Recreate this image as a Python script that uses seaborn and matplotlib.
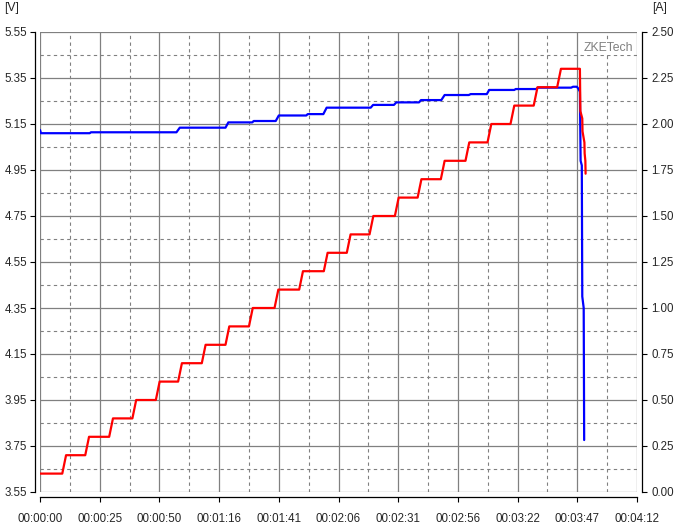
import matplotlib
matplotlib.use("Agg")
import matplotlib.pyplot as plt
import numpy as np
import pandas as pd
import seaborn as sns

# Voltage trace (seconds, volts), corner points
volt_t = [0.0, 0.4, 21.0, 21.5, 57.6, 59.0, 78.3, 79.5, 89.6, 90.2, 99.5, 100.8,
          112.4, 113.0, 119.6, 121.0, 139.6, 140.6, 149.4, 150.4, 160.0, 160.8,
          169.4, 170.8, 181.0, 181.8, 188.6, 189.6, 200.2, 200.8, 209.4, 210.2,
          224.2, 225.0, 226.6, 227.3, 227.9, 228.2, 228.7, 228.9, 229.5, 229.7]
volt_v = [5.124, 5.110, 5.110, 5.114, 5.114, 5.134, 5.134, 5.157, 5.157, 5.163,
          5.163, 5.187, 5.187, 5.193, 5.193, 5.221, 5.221, 5.233, 5.233, 5.244,
          5.244, 5.254, 5.254, 5.276, 5.276, 5.280, 5.280, 5.298, 5.298, 5.302,
          5.302, 5.308, 5.308, 5.312, 5.312, 5.303, 5.290, 4.990, 4.970, 4.400,
          4.350, 3.776]

# Current steps (A) and the times they step up
step_levels = [0.1, 0.2, 0.3, 0.4, 0.5, 0.6, 0.7, 0.8, 0.9, 1.0, 1.1, 1.2,
               1.3, 1.4, 1.5, 1.6, 1.7, 1.8, 1.9, 2.0, 2.1, 2.2, 2.3]
step_times = [10.2, 19.9, 30.0, 39.8, 49.7, 59.1, 69.1, 79.1, 89.0, 99.8, 110.2,
              120.6, 130.3, 139.9, 150.6, 160.2, 170.0, 180.4, 189.7, 199.4,
              209.2, 219.1]
# current collapse at the end of the test
drop_t = [227.9, 228.1, 228.9, 229.0, 229.8, 229.9, 230.2, 230.3]
drop_a = [2.30, 2.07, 2.03, 1.96, 1.90, 1.84, 1.80, 1.73]

x_ticks = [0, 25.2, 50.4, 75.6, 100.8, 126.0, 151.2, 176.4, 201.6, 226.8, 252.0]
x_labels = ["00:00:00", "00:00:25", "00:00:50", "00:01:16", "00:01:41", "00:02:06",
            "00:02:31", "00:02:56", "00:03:22", "00:03:47", "00:04:12"]
v_ticks = [3.55, 3.75, 3.95, 4.15, 4.35, 4.55, 4.75, 4.95, 5.15, 5.35, 5.55]
a_ticks = [0.0, 0.25, 0.5, 0.75, 1.0, 1.25, 1.5, 1.75, 2.0, 2.25, 2.5]

# build the current path: short ramp at each step
cur_t = [0.0]
cur_a = [step_levels[0]]
for i, t in enumerate(step_times):
    cur_t += [t - 0.8, t + 0.8]
    cur_a += [step_levels[i], step_levels[i + 1]]
cur_t += drop_t
cur_a += drop_a

volt_df = pd.DataFrame({"t": volt_t, "V": volt_v})
cur_df = pd.DataFrame({"t": cur_t, "A": cur_a})

sns.set_style("white")
plt.rcParams["font.family"] = ["Liberation Sans", "DejaVu Sans"]
plt.rcParams["font.size"] = 8.3

W, H = 677, 525
fig = plt.figure(figsize=(W / 100, H / 100), dpi=100)
ax = fig.add_axes([40 / W, 33 / H, 597 / W, 460 / H])
ax2 = ax.twinx()

sns.lineplot(data=volt_df, x="t", y="V", ax=ax, color="#0000ff", lw=1.6,
             estimator=None, sort=False)
sns.lineplot(data=cur_df, x="t", y="A", ax=ax2, color="#ff0000", lw=1.6,
             estimator=None, sort=False)

ax.set_xlim(0, 252)
ax.set_ylim(3.55, 5.55)
ax2.set_ylim(0, 2.5)

ax.set_xticks(x_ticks)
ax.set_xticklabels(x_labels)
ax.set_xticks([12.6 + 25.2 * i for i in range(10)], minor=True)
ax.set_yticks(v_ticks)
ax.set_yticklabels([f"{v:.2f}" for v in v_ticks], fontsize=8.8)
ax.set_yticks([3.65 + 0.2 * i for i in range(10)], minor=True)
ax2.set_yticks(a_ticks)
ax2.set_yticklabels([f"{a:.2f}" for a in a_ticks], fontsize=8.8)

ax.grid(which="major", color="#808080", lw=0.9, ls="-")
ax.grid(which="minor", color="#808080", lw=0.8, ls=(0, (3, 3)))
ax.set_axisbelow(True)

for a in (ax, ax2):
    a.set_xlabel("")
    a.set_ylabel("")
    for s in a.spines.values():
        s.set_visible(False)

ax.spines["left"].set_visible(True)
ax.spines["left"].set_position(("outward", 3.6))
ax.spines["bottom"].set_visible(True)
ax.spines["bottom"].set_position(("outward", 3.6))
ax2.spines["right"].set_visible(True)
ax2.spines["right"].set_position(("outward", 3.6))
for s in (ax.spines["left"], ax.spines["bottom"], ax2.spines["right"]):
    s.set_color("black")
    s.set_linewidth(0.9)

ax.tick_params(which="major", axis="y", length=3.6, width=0.8, color="black",
               left=True, pad=2)
ax.tick_params(which="major", axis="x", length=3.6, width=0.8, color="black",
               bottom=True, pad=8)
ax.tick_params(which="minor", length=0)
ax2.tick_params(axis="y", length=3.6, width=0.8, color="black", right=True, pad=3)

fig.text(12 / W, 1 - 8 / H, "[V]", ha="center", va="center", fontsize=8.8)
fig.text(660 / W, 1 - 8 / H, "[A]", ha="center", va="center", fontsize=8.8)
ax.text(0.993, 0.965, "ZKETech", transform=ax.transAxes, ha="right", va="center",
        color="#808080", fontsize=8.8, zorder=5,
        bbox=dict(facecolor="white", edgecolor="none", pad=1))

fig.savefig("out.png", dpi=100, facecolor="white")
